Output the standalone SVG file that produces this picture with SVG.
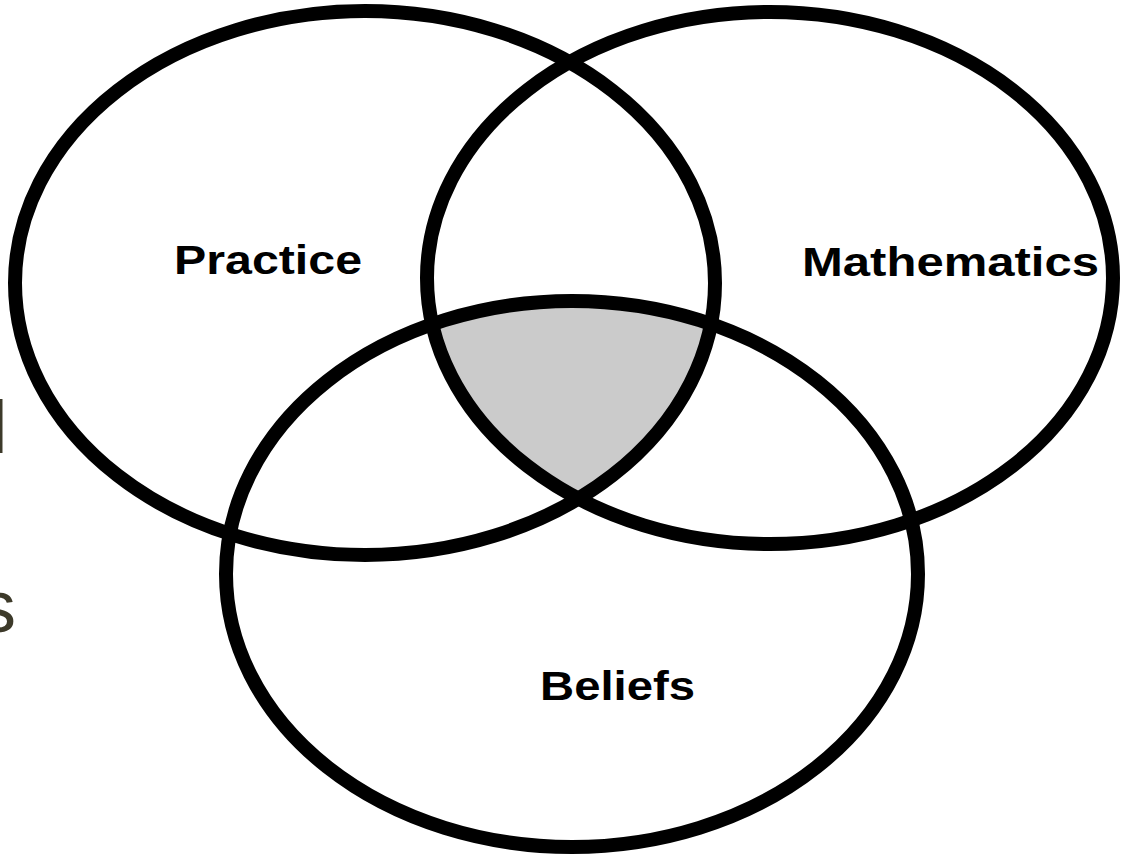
<svg xmlns="http://www.w3.org/2000/svg" width="1130" height="857" viewBox="0 0 1130 857">
  <style>
    .ring { fill: none; stroke: #000; stroke-width: 14; }
    .label { font-family: "Liberation Sans", Arial, sans-serif; font-weight: bold; font-size: 41px; fill: #000; }
    .bg { font-family: "Liberation Sans", Arial, sans-serif; font-size: 74px; fill: #3d3a2a; }
  </style>
  <defs>
    <clipPath id="clipLeft"><ellipse cx="365" cy="283" rx="350" ry="272"/></clipPath>
    <clipPath id="clipRight"><ellipse cx="770" cy="278" rx="343" ry="266"/></clipPath>
  </defs>
  <rect width="1130" height="857" fill="#fff"/>
  <g id="background-text">
    <text class="bg" x="-9" y="453">l</text>
    <text class="bg" x="-21" y="632">s</text>
  </g>
  <g id="center-overlap" clip-path="url(#clipLeft)">
    <ellipse cx="572" cy="574" rx="346" ry="273" fill="#cbcbcb" clip-path="url(#clipRight)"/>
  </g>
  <g id="practice">
    <ellipse class="ring" cx="365" cy="283" rx="350" ry="272"/>
    <text class="label" x="174" y="274" textLength="188" lengthAdjust="spacingAndGlyphs">Practice</text>
  </g>
  <g id="mathematics">
    <ellipse class="ring" cx="770" cy="278" rx="343" ry="266"/>
    <text class="label" x="802" y="276" textLength="297" lengthAdjust="spacingAndGlyphs">Mathematics</text>
  </g>
  <g id="beliefs">
    <ellipse class="ring" cx="572" cy="574" rx="346" ry="273"/>
    <text class="label" x="540" y="700" textLength="155" lengthAdjust="spacingAndGlyphs">Beliefs</text>
  </g>
</svg>
